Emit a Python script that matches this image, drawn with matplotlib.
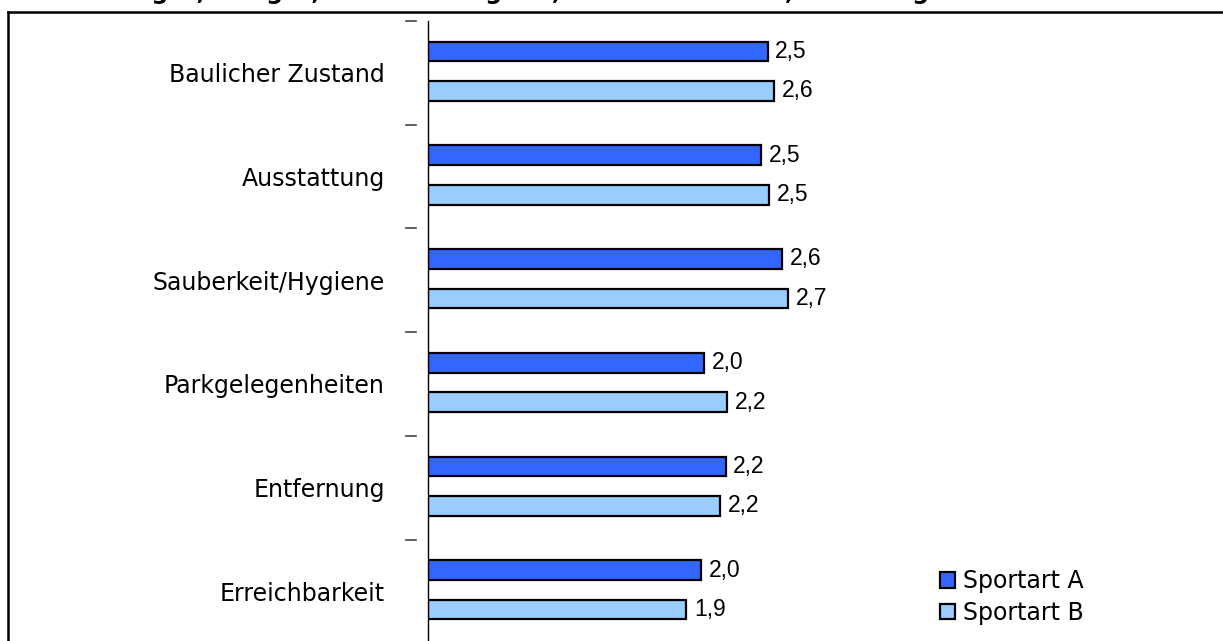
import matplotlib
matplotlib.use("Agg")
import matplotlib.pyplot as plt
from matplotlib.lines import Line2D
import numpy as np

kategorien = ["Baulicher Zustand", "Ausstattung", "Sauberkeit/Hygiene",
              "Parkgelegenheiten", "Entfernung", "Erreichbarkeit"]
sportart_a = [2.51, 2.46, 2.62, 2.04, 2.20, 2.02]
sportart_b = [2.56, 2.52, 2.66, 2.21, 2.16, 1.91]
serien = ["Sportart A", "Sportart B"]
titel = "1 = sehr gut, 2 = gut, 3 = befriedigend, 4 = ausreichend, 5 = mangelhaft"

W, H = 1223, 641
fig = plt.figure(figsize=(W / 100, H / 100), dpi=100)

# plot area in pixels
left_px, top_px, right_px, bottom_px = 428, 21, 1200, 643.2
ax = fig.add_axes([left_px / W, 1 - bottom_px / H,
                   (right_px - left_px) / W, (bottom_px - top_px) / H])
px_per_unit = 135.3
ax.set_xlim(0, (right_px - left_px) / px_per_unit)
ax.set_ylim(len(kategorien) - 0.5, -0.5)

y = np.arange(len(kategorien))
h = 0.19
ax.barh(y - 0.205, sportart_a, height=h, color="#3366FF", edgecolor="black",
        linewidth=1.6, label=serien[0])
ax.barh(y + 0.175, sportart_b, height=h, color="#99CCFF", edgecolor="black",
        linewidth=1.6, label=serien[1])

for yy, va_, vb_ in zip(y, sportart_a, sportart_b):
    ax.annotate(f"{va_:.1f}".replace(".", ","), (va_, yy - 0.205),
                xytext=(5.5, 0), textcoords="offset points", va="center",
                ha="left", fontsize=16.5, family="Liberation Sans")
    ax.annotate(f"{vb_:.1f}".replace(".", ","), (vb_, yy + 0.175),
                xytext=(5.5, 0), textcoords="offset points", va="center",
                ha="left", fontsize=16.5, family="Liberation Sans")

for s in ["top", "right", "bottom"]:
    ax.spines[s].set_visible(False)
ax.spines["left"].set_linewidth(1.0)
ax.set_xticks([])
ax.set_yticks(y)
ax.set_yticklabels(kategorien, fontsize=17, family="DejaVu Sans")
ax.tick_params(axis="y", length=0, pad=31)

# detached boundary dashes left of the axis
ax_w = right_px - left_px
trans = ax.get_yaxis_transform()
for b in np.arange(-0.5, len(kategorien) + 0.5, 1):
    ax.plot([-22 / ax_w, -12 / ax_w], [b, b], color="#444444", lw=1.2,
            transform=trans, clip_on=False)

ax.legend(loc="upper left", bbox_to_anchor=(940 / W, 1 - 569 / H),
          bbox_transform=fig.transFigure, frameon=False, fontsize=17,
          handlelength=0.64, handleheight=0.64, handletextpad=0.35,
          labelspacing=0.33, borderpad=0, borderaxespad=0)
for p in ax.get_legend().get_patches():
    p.set_linewidth(1.6)

# outer frame lines and clipped title (only its lower edge shows)
fig.add_artist(Line2D([8 / W, 1], [1 - 12 / H, 1 - 12 / H], color="black",
                      lw=1.8, transform=fig.transFigure))
fig.add_artist(Line2D([8 / W, 8 / W], [0, 1 - 12 / H], color="black",
                      lw=1.8, transform=fig.transFigure))
fig.text(32 / W, 1 + 0.5 / H, titel, fontsize=17, fontweight="bold",
         va="baseline", ha="left", family="DejaVu Sans")

fig.savefig("out.png", dpi=100)
